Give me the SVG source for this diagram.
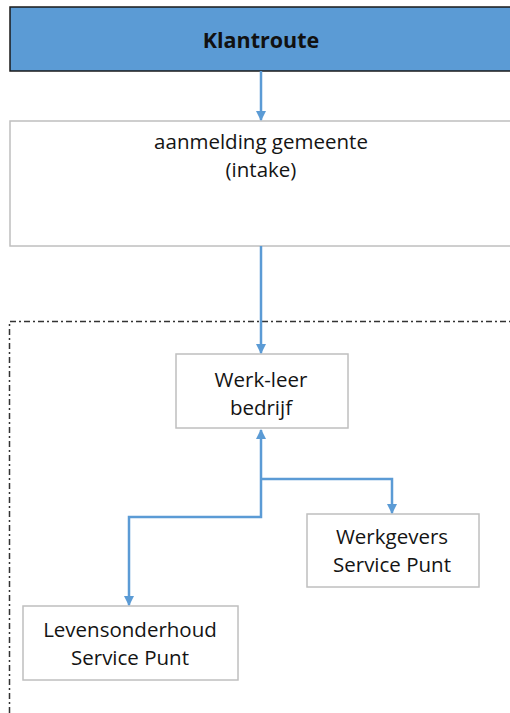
<svg xmlns="http://www.w3.org/2000/svg" width="510" height="713" viewBox="0 0 510 713">
<defs>
<style>
.box{fill:#ffffff;stroke:#bfbfbf;stroke-width:1.5}
.t{font-family:"Open Sans","Liberation Sans",sans-serif;font-size:20.5px;fill:#141414;text-anchor:middle}
.c{fill:none;stroke:#5b9bd5;stroke-width:2.5}
</style>
<marker id="ah" viewBox="0 0 10 10" refX="9" refY="5" markerWidth="4" markerHeight="4" markerUnits="strokeWidth" orient="auto">
<path d="M0,0 L10,5 L0,10 z" fill="#5b9bd5"/>
</marker>
</defs>
<rect width="510" height="713" fill="#ffffff"/>
<path d="M9.5,713 L9.5,321.5 L512,321.5" fill="none" stroke="#333333" stroke-width="1.5" stroke-dasharray="6,3,2,3"/>
<g id="klantroute">
<rect x="10" y="7" width="510" height="64" fill="#5b9bd5" stroke="#1a1a1a" stroke-width="1.5"/>
<text x="261" y="48" class="t" style="font-weight:bold;font-size:21.5px;fill:#111111">Klantroute</text>
</g>
<g id="aanmelding">
<rect x="10" y="121" width="510" height="125" class="box"/>
<text x="261" y="149" class="t">aanmelding gemeente</text>
<text x="261" y="177" class="t">(intake)</text>
</g>
<g id="werkleer">
<rect x="176" y="354" width="172" height="74" class="box"/>
<text x="261" y="387" class="t">Werk-leer</text>
<text x="261" y="415" class="t">bedrijf</text>
</g>
<g id="werkgevers">
<rect x="307" y="514" width="172" height="73" class="box"/>
<text x="392" y="544" class="t">Werkgevers</text>
<text x="392" y="572" class="t">Service Punt</text>
</g>
<g id="levensonderhoud">
<rect x="23" y="606" width="215" height="74" class="box"/>
<text x="130" y="637" class="t">Levensonderhoud</text>
<text x="130" y="665" class="t">Service Punt</text>
</g>
<g id="connectors">
<path class="c" d="M261,71 L261,120" marker-end="url(#ah)"/>
<path class="c" d="M261,246 L261,353" marker-end="url(#ah)"/>
<path class="c" d="M261,479 L261,430" marker-end="url(#ah)"/>
<path class="c" d="M261,479 L261,517 L129,517 L129,605" marker-end="url(#ah)"/>
<path class="c" d="M261,479 L392,479 L392,513" marker-end="url(#ah)"/>
</g>
</svg>
